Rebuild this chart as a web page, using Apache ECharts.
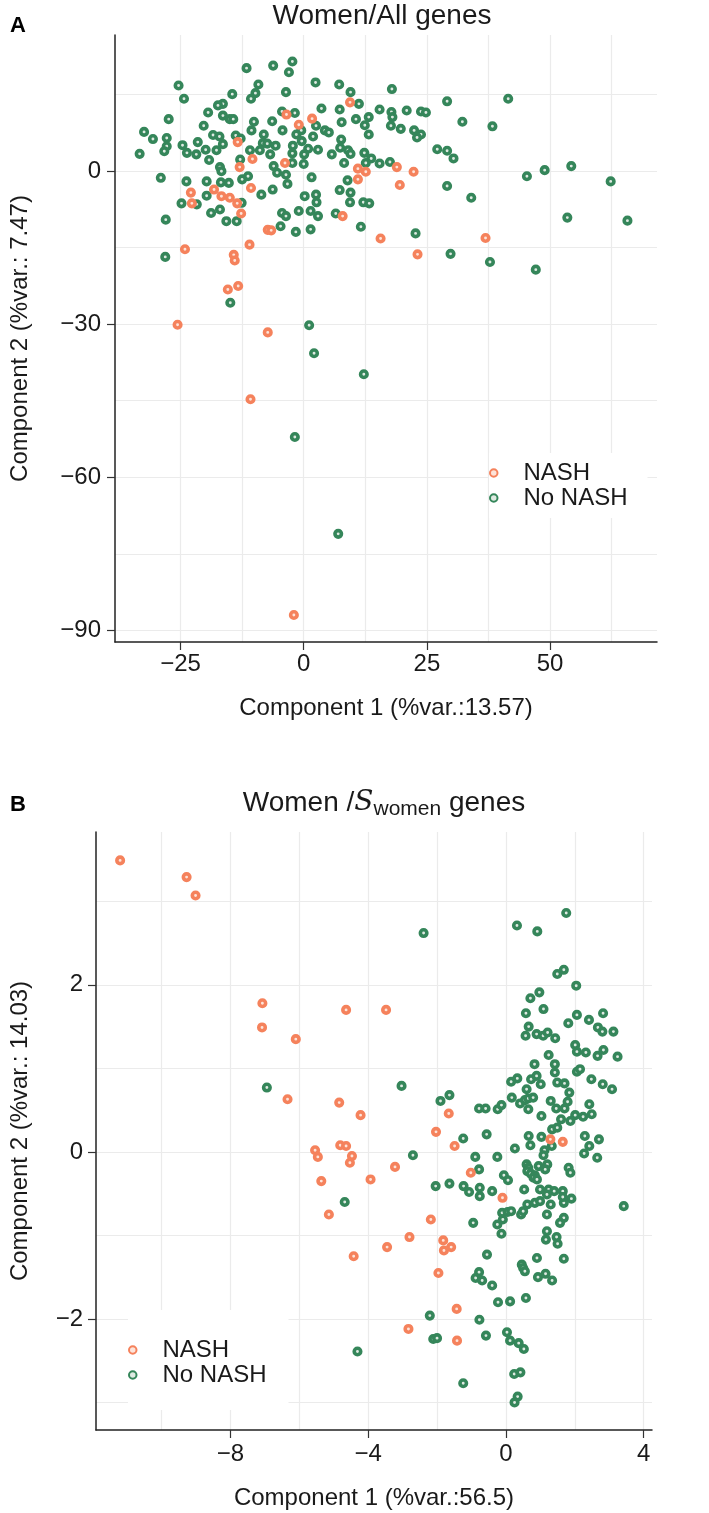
<!DOCTYPE html>
<html>
<head>
<meta charset="utf-8">
<script src="https://cdn.jsdelivr.net/npm/echarts@6/dist/echarts.min.js"></script>
<style>
  html, body { margin: 0; padding: 0; background: #fff; }
  #chart { width: 709px; height: 1513px; }
</style>
</head>
<body>
<div id="chart"></div>
<script>
// Panel A: Women / All genes  (PC1 vs PC2)
const aNash = [
  [9.4,13.5],[-3.5,11.1],[1.7,10.3],[-1.0,9.1],[-13.4,5.7],[-10.4,2.4],[-13.0,0.8],[-3.8,1.6],
  [11.0,0.5],[12.6,-0.1],[18.9,0.8],[22.3,-0.1],[11.0,-1.6],[19.5,-2.7],[-10.7,-3.3],[-18.2,-3.6],
  [-22.9,-4.2],[-22.7,-6.3],[-16.7,-4.9],[-15.0,-5.2],[-13.5,-6.3],[-12.7,-8.3],[-7.3,-11.5],[-6.6,-11.6],
  [7.9,-8.8],[15.6,-13.2],[36.9,-13.1],[-24.1,-15.3],[-11.0,-14.4],[23.1,-16.3],[-14.2,-16.4],[-14.0,-17.5],
  [-15.4,-23.2],[-13.3,-22.5],[-25.6,-30.1],[-7.3,-31.6],[-10.8,-44.7],[-2.0,-87.0]
];
const aNoNash = [
  [-2.3,21.5],[-6.2,20.7],[-11.6,20.2],[-3.0,19.4],[2.4,17.4],[7.2,17.0],[-25.4,16.8],[-9.2,17.0],
  [9.5,15.5],[17.9,16.1],[-9.8,15.3],[-3.6,15.5],[-14.5,15.1],[-10.7,14.2],[-24.3,14.2],[29.1,13.7],
  [41.5,14.2],[11.2,13.2],[-16.4,13.2],[-17.4,12.9],[7.3,12.1],[15.4,12.1],[3.6,12.3],[20.9,11.9],
  [17.8,11.6],[23.8,11.7],[24.8,11.5],[-19.4,11.5],[-4.4,11.7],[-1.8,11.4],[-16.4,10.9],[-15.0,10.2],
  [-14.3,10.2],[13.2,10.6],[18.0,10.6],[-27.4,10.2],[-6.4,9.8],[-10.1,9.7],[10.6,10.2],[7.7,9.6],
  [32.2,9.7],[38.3,8.8],[-20.3,8.9],[2.5,8.9],[12.4,9.0],[17.7,8.9],[19.7,8.3],[-10.6,8.0],
  [-4.3,8.0],[-0.5,8.0],[4.3,8.0],[5.1,7.6],[22.4,8.0],[-32.4,7.7],[-18.4,7.1],[-17.1,6.8],
  [-13.8,7.0],[-12.8,6.4],[-8.1,7.2],[-1.5,7.2],[13.2,7.2],[23.8,7.2],[23.0,6.6],[-30.6,6.3],
  [-27.8,6.5],[-21.5,5.7],[-16.4,5.3],[1.9,6.8],[7.6,6.2],[-24.6,5.1],[-27.8,4.9],[-8.3,5.5],
  [-7.4,5.4],[-5.7,5.0],[-2.2,5.0],[-0.4,5.9],[0.9,4.4],[2.9,4.2],[7.4,4.6],[9.0,4.1],
  [-28.3,3.9],[-23.7,3.6],[-21.8,3.3],[-19.9,4.2],[-17.7,4.1],[-10.9,4.1],[-8.9,4.1],[-6.8,3.3],
  [-2.3,3.5],[0.1,3.3],[5.7,3.3],[9.5,3.4],[12.3,3.6],[27.1,4.3],[29.1,4.0],[30.4,2.5],
  [13.7,2.5],[-33.3,3.4],[-19.2,2.2],[-12.9,2.3],[-2.3,1.6],[0.0,1.4],[8.2,1.6],[12.6,1.6],
  [15.4,1.5],[17.5,1.8],[-17.0,0.8],[-16.7,0.0],[-6.1,1.0],[-5.4,-0.3],[-3.6,-0.7],[54.3,1.0],
  [48.9,0.2],[45.3,-1.0],[62.3,-2.0],[-29.0,-1.3],[-23.8,-2.0],[-19.7,-2.0],[-16.8,-2.2],[-15.2,-2.3],
  [-12.5,-1.6],[-11.3,-1.0],[1.6,-1.2],[8.9,-1.8],[-3.3,-2.5],[29.1,-2.9],[7.3,-3.7],[9.5,-4.2],
  [-8.6,-4.6],[-6.3,-3.6],[0.2,-4.9],[2.5,-4.6],[34.0,-5.2],[-19.7,-4.8],
  [-24.8,-6.3],[-21.7,-6.5],[-18.8,-8.2],[-17.0,-7.5],[-15.7,-9.8],[-13.6,-9.8],[-12.6,-6.2],[-4.4,-8.2],
  [-3.6,-8.8],[-4.7,-10.8],[-1.0,-7.8],[-1.6,-11.9],[1.4,-7.8],[2.6,-6.1],[2.9,-8.8],[1.4,-11.4],
  [9.4,-6.1],[6.5,-8.3],[12.1,-6.1],[13.3,-6.3],[11.6,-10.9],[22.7,-12.2],[53.5,-9.1],[65.7,-9.7],
  [-28.0,-9.5],[-28.1,-16.8],[-14.9,-25.8],[29.8,-16.2],[37.8,-17.8],[47.1,-19.3],[1.1,-30.2],[2.1,-35.7],
  [12.2,-39.8],[-1.8,-52.1],[7.0,-71.1]
];

// Panel B: Women / S_women genes
const bNash = [
  [-11.2,3.49],[-9.27,3.29],[-9.01,3.07],[-7.07,1.78],[-7.08,1.49],[-6.10,1.35],[-4.64,1.70],[-3.48,1.70],
  [-6.34,0.63],[-4.84,0.59],[-4.22,0.44],[-5.54,0.02],[-5.46,-0.06],[-4.81,0.08],[-4.64,0.07],[-4.47,-0.05],
  [-4.53,-0.13],[-5.36,-0.35],[-3.93,-0.33],[-3.22,-0.18],[-5.14,-0.75],[-1.66,0.46],[-2.03,0.24],[-1.49,0.07],
  [-1.02,-0.25],[1.29,0.15],[1.65,0.12],[-0.10,-0.55],[-2.18,-0.81],[-2.80,-1.02],[-1.82,-1.06],[-1.59,-1.14],
  [-1.80,-1.18],[-3.45,-1.14],[-4.42,-1.25],[-1.96,-1.45],[-1.43,-1.88],[-2.83,-2.12],[-1.42,-2.26]
];
const bNoNash = [
  [-2.39,2.62],[0.32,2.71],[0.91,2.64],[1.75,2.86],[1.49,2.13],[1.68,2.18],[2.04,1.99],[0.97,1.91],
  [0.71,1.84],[1.09,1.71],[0.58,1.66],[2.06,1.64],[2.41,1.58],[2.82,1.66],[1.81,1.54],[0.66,1.50],
  [0.57,1.39],[0.89,1.41],[1.08,1.39],[1.21,1.43],[1.43,1.36],[2.67,1.49],[2.80,1.44],[3.12,1.44],
  [2.01,1.28],[2.06,1.20],[2.32,1.19],[2.66,1.15],[2.83,1.22],[3.24,1.14],[1.24,1.16],[0.83,1.05],
  [1.42,1.05],[1.42,0.95],[2.06,0.96],[2.15,0.99],[2.48,0.87],[2.81,0.81],[3.08,0.75],[0.15,0.84],
  [0.33,0.88],[0.73,0.87],[0.89,0.91],[1.01,0.81],[1.49,0.83],[1.70,0.82],[0.60,0.75],[1.84,0.71],
  [-3.03,0.79],[-1.90,0.61],[-1.64,0.68],[0.17,0.65],[0.41,0.58],[0.55,0.62],[0.65,0.64],[0.79,0.65],
  [0.65,0.51],[1.30,0.61],[1.79,0.60],[1.46,0.52],[1.70,0.52],[2.42,0.57],[2.01,0.44],[2.24,0.42],
  [2.49,0.45],[1.87,0.37],[1.60,0.39],[-0.78,0.52],[-0.59,0.52],[-0.24,0.51],[-0.13,0.56],[1.03,0.43],
  [1.34,0.27],[1.49,0.29],[0.66,0.19],[0.71,0.08],[1.03,0.18],[1.33,0.07],[1.12,0.02],[1.09,-0.04],
  [2.29,0.19],[2.42,0.07],[2.70,0.15],[2.27,-0.02],[2.65,-0.07],[-0.56,0.21],[-1.24,0.16],[0.26,0.04],
  [-0.25,-0.06],[-0.89,-0.06],[-2.70,-0.04],[-0.78,-0.21],[0.60,-0.15],[0.65,-0.19],[0.62,-0.23],[0.95,-0.17],
  [1.20,-0.15],[1.14,-0.21],[0.72,-0.26],[0.84,-0.28],[0.80,-0.31],[0.90,-0.33],[1.82,-0.19],[1.87,-0.25],
  [-0.06,-0.28],[0.06,-0.34],[-2.04,-0.41],[-1.64,-0.38],[-1.23,-0.41],[-1.07,-0.48],[-0.76,-0.43],[-0.76,-0.53],
  [-0.40,-0.47],[0.53,-0.45],[0.99,-0.45],[1.24,-0.45],[1.40,-0.47],[1.65,-0.47],[1.19,-0.51],[1.90,-0.56],
  [1.68,-0.61],[1.65,-0.54],[0.62,-0.63],[0.84,-0.61],[0.99,-0.59],[1.30,-0.63],[3.42,-0.65],[-0.11,-0.73],
  [0.05,-0.72],[0.15,-0.71],[0.44,-0.75],[0.50,-0.71],[1.19,-0.75],[1.68,-0.79],[1.57,-0.85],[-0.95,-0.85],
  [-0.25,-0.87],[-0.09,-0.81],[-0.13,-0.98],[1.19,-0.95],[1.47,-1.02],[1.16,-1.05],[1.50,-1.10],[-0.55,-1.23],
  [0.90,-1.27],[1.68,-1.28],[0.46,-1.35],[0.50,-1.39],[0.55,-1.43],[0.93,-1.50],[1.15,-1.46],[1.34,-1.54],
  [-0.88,-1.51],[-0.78,-1.44],[-0.69,-1.54],[-0.40,-1.60],[-0.23,-1.80],[0.12,-1.79],[0.58,-1.75],[-0.77,-2.01],
  [-2.21,-1.96],[-2.11,-2.24],[-2.00,-2.23],[-0.58,-2.20],[0.03,-2.16],[0.12,-2.26],[0.37,-2.29],[0.52,-2.36],
  [0.24,-2.66],[0.42,-2.64],[0.34,-2.93],[0.25,-3.00],[-1.24,-2.77],[-6.94,0.77],[-4.68,-0.60],[-4.31,-2.39]
];

// ticks and grid lines (major + minor, like ggplot)
const aTicksX = [-25, 0, 25, 50];
const aTicksY = [-90, -60, -30, 0];
const aGridX = [-25, -12.5, 0, 12.5, 25, 37.5, 50, 62.5];
const aGridY = [-90, -75, -60, -45, -30, -15, 0, 15];
const bTicksX = [-8, -4, 0, 4];
const bTicksY = [-2, 0, 2];
const bGridX = [-10, -8, -6, -4, -2, 0, 2, 4];
const bGridY = [-3, -2, -1, 0, 1, 2, 3];

const GREEN = '#35865a';
const ORANGE = '#f5825c';
const FONT = '"Liberation Sans", Arial, Helvetica, sans-serif';
const TXT = '#1a1a1a';

const minus = v => String(v).replace('-', '\u2212');

// grid lines drawn through the axes' own scale
const gridLines = (xs, ys) => ({
  silent: true,
  symbol: ['none', 'none'],
  z: 0,
  animation: false,
  label: { show: false },
  lineStyle: { color: '#ebebeb', width: 1.2, type: 'solid' },
  emphasis: { disabled: true },
  data: xs.map(v => ({ xAxis: v })).concat(ys.map(v => ({ yAxis: v })))
});

const makeAxis = (idx, min, max, ticks, name, gap, margin) => ({
  type: 'value', gridIndex: idx, min: min, max: max,
  name: name, nameLocation: 'middle', nameGap: gap,
  nameTextStyle: { fontFamily: FONT, fontSize: 24, color: TXT },
  axisLine: { show: true, onZero: false, lineStyle: { color: '#222', width: 1.5 } },
  axisTick: { show: true, length: 8, customValues: ticks, lineStyle: { color: '#333', width: 1.2 } },
  axisLabel: { customValues: ticks, margin: margin, fontFamily: FONT, fontSize: 24, color: TXT, formatter: minus },
  splitLine: { show: false }
});

const dots = (name, data, idx, color, inner, z, extra) => Object.assign({
  name: name, type: 'scatter', xAxisIndex: idx, yAxisIndex: idx,
  data: data, symbol: 'circle', symbolSize: 6.5, z: z,
  itemStyle: { color: inner, borderColor: color, borderWidth: 3.6, opacity: 1 },
  emphasis: { disabled: true }, animation: false
}, extra || {});

const legendBox = (left, top, padding) => ({
  orient: 'vertical', left: left, top: top, padding: padding,
  itemGap: 1, itemWidth: 7.5, itemHeight: 7.5,
  backgroundColor: '#ffffff',
  data: ['NASH', 'No NASH'],
  textStyle: { fontFamily: FONT, fontSize: 24, color: TXT, padding: [0, 0, 0, 21] }
});

const chart = echarts.init(document.getElementById('chart'), null, { renderer: 'canvas' });

chart.setOption({
  backgroundColor: '#ffffff',
  animation: false,
  grid: [
    { left: 107, top: 35, width: 550, height: 607 },
    { left: 88, top: 832, width: 564, height: 598 }
  ],
  xAxis: [
    makeAxis(0, -38.3, 71.7, aTicksX, 'Component 1 (%var.:13.57)', 54, 10),
    makeAxis(1, -11.9, 4.24, bTicksX, 'Component 1 (%var.:56.5)', 56, 12)
  ],
  yAxis: [
    makeAxis(0, -92.3, 26.7, aTicksY, 'Component 2 (%var.: 7.47)', 83, 14),
    makeAxis(1, -3.33, 3.83, bTicksY, 'Component 2 (%var.: 14.03)', 64, 13)
  ],
  legend: [
    legendBox(489, 453, [8, 20, 8, 0]),
    legendBox(128, 1310, [28, 22, 23, 0])
  ],
  series: [
    dots('No NASH', aNoNash, 0, GREEN, '#dfeae2', 3, { markLine: gridLines(aGridX, aGridY) }),
    dots('NASH', aNash, 0, ORANGE, '#fde4da', 4),
    dots('No NASH', bNoNash, 1, GREEN, '#dfeae2', 3, { markLine: gridLines(bGridX, bGridY) }),
    dots('NASH', bNash, 1, ORANGE, '#fde4da', 4)
  ],
  graphic: [
    { type: 'text', x: 18, y: 26, style: { text: 'A', font: 'bold 22px ' + FONT, fill: '#000', align: 'center', verticalAlign: 'middle' } },
    { type: 'text', x: 18, y: 805, style: { text: 'B', font: 'bold 22px ' + FONT, fill: '#000', align: 'center', verticalAlign: 'middle' } },
    { type: 'text', x: 382, y: 16, style: { text: 'Women/All genes', font: '28px ' + FONT, fill: TXT, align: 'center', verticalAlign: 'middle' } },
    {
      type: 'text', x: 384, y: 803,
      style: {
        text: '{a|Women /}{s|S}{b|women}{a| genes}',
        align: 'center', verticalAlign: 'middle',
        rich: {
          a: { fontFamily: FONT, fontSize: 28, fill: TXT, lineHeight: 34 },
          s: { fontFamily: '"DejaVu Serif", serif', fontStyle: 'italic', fontSize: 28, fill: TXT, lineHeight: 34 },
          b: { fontFamily: FONT, fontSize: 21, fill: TXT, lineHeight: 22, verticalAlign: 'bottom' }
        }
      }
    }
  ]
});
</script>
</body>
</html>
